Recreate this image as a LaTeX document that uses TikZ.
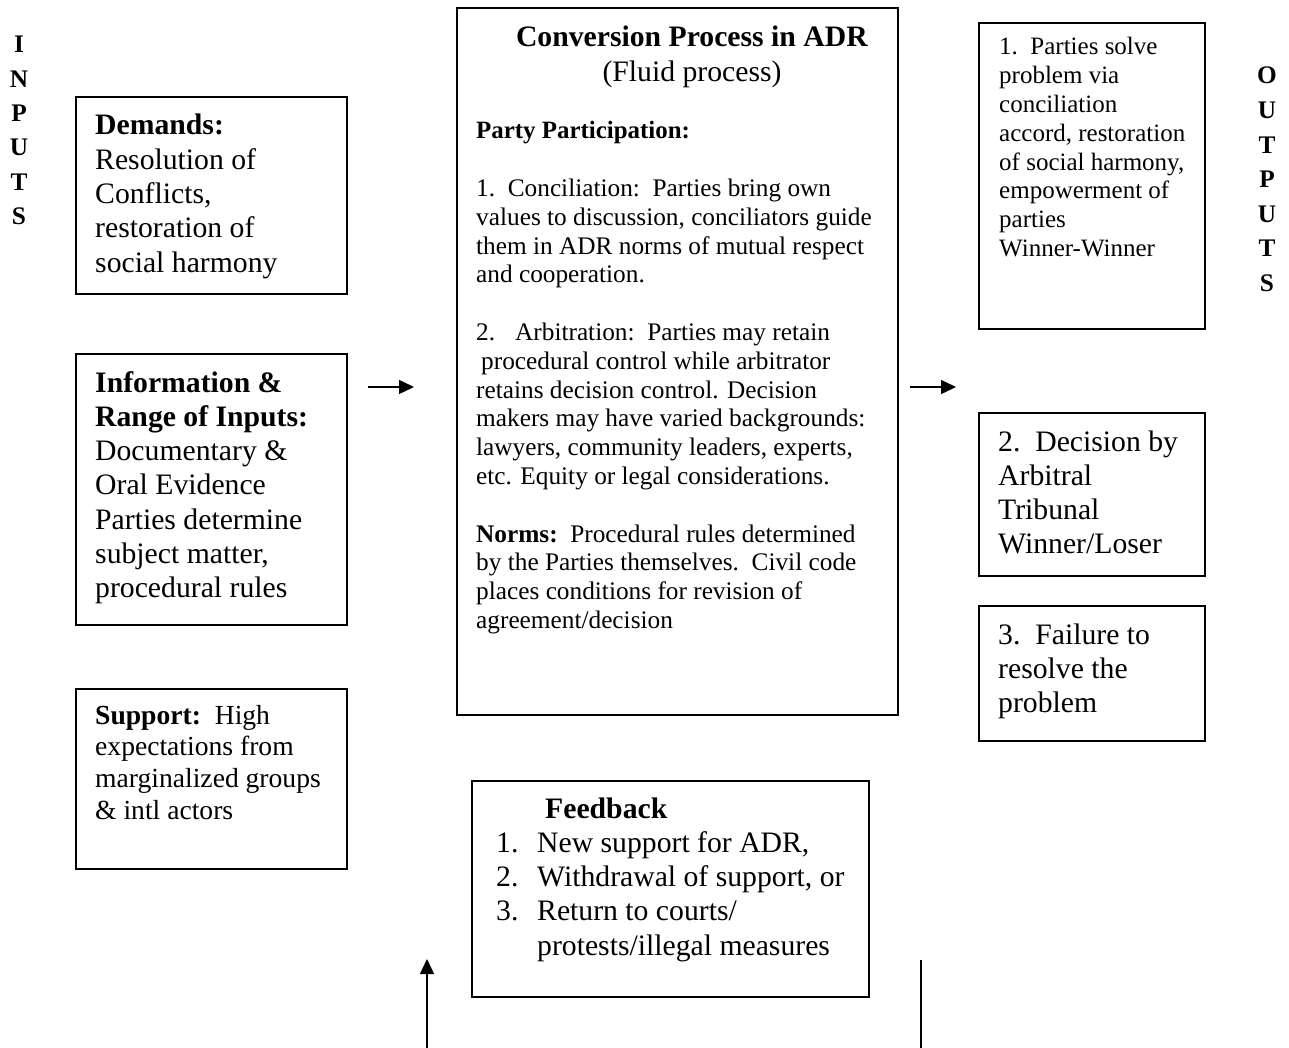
\documentclass[tikz,border=0pt]{standalone}
\usepackage{fontspec}
\setmainfont{Liberation Serif}
\usetikzlibrary{arrows.meta}
\newcommand\bigtxt{\fontsize{29.7}{34.3}\selectfont}
\newcommand\midtxt{\fontsize{25.3}{28.8}\selectfont}
\newcommand\suptxt{\fontsize{27.6}{31.7}\selectfont}
\newcommand\lettxt{\fontsize{25.3}{34.3}\selectfont}
\tikzset{
  box/.style={draw, line width=1.8pt, anchor=north west, inner sep=0pt},
  txt/.style={anchor=base west, inner sep=0pt},
  arr/.style={line width=1.4pt, -{Triangle[length=15pt,width=14pt]}},
  plain/.style={line width=1.4pt},
}
\begin{document}
\begin{tikzpicture}[x=1pt,y=-1pt]
\useasboundingbox (0,0) rectangle (1289,1048);

% side labels
\node[anchor=base, inner sep=0pt] (inputs) at (19,53)
  {\parbox[t]{40pt}{\centering\lettxt\bfseries I\\N\\P\\U\\T\\S}};
\node[anchor=base, inner sep=0pt] (outputs) at (1267,84)
  {\parbox[t]{40pt}{\centering\fontsize{25.3}{34.6}\selectfont\bfseries O\\U\\T\\P\\U\\T\\S}};

% input boxes
\node[box, minimum width=271pt, minimum height=197pt] (demands) at (75,96) {};
\node[txt] (demandsT) at (95,135) {\parbox[t]{250pt}{\bigtxt\raggedright
  \textbf{Demands:}\\ Resolution of\\ Conflicts,\\ restoration of\\ social harmony}};

\node[box, minimum width=271pt, minimum height=271pt] (info) at (75,353) {};
\node[txt] (infoT) at (95,392) {\parbox[t]{250pt}{\bigtxt\raggedright
  \textbf{Information \&}\\ \textbf{Range of Inputs:}\\ Documentary \&\\ Oral Evidence\\
  Parties determine\\ subject matter,\\ procedural rules}};

\node[box, minimum width=271pt, minimum height=180pt] (support) at (75,688) {};
\node[txt] (supportT) at (95,724) {\parbox[t]{250pt}{\suptxt\raggedright
  \textbf{Support:}\ \ High\\ expectations from\\ marginalized groups\\ \& intl actors}};

% conversion box
\node[box, minimum width=441pt, minimum height=707pt] (conv) at (456,7) {};
\node[anchor=base, inner sep=0pt] (convTitle) at (692,47) {\parbox[t]{420pt}{\centering\bigtxt
  \textbf{Conversion Process in ADR}\\ (Fluid process)}};
\node[txt] (convT) at (476,139) {\parbox[t]{415pt}{\midtxt\raggedright
  \textbf{\fontsize{24.9}{28.8}\selectfont Party Participation:}\\[28.8pt]
  1.\ \ Conciliation:\ \ Parties bring own\\
  values to discussion, conciliators guide\\
  them in ADR norms of mutual respect\\
  and cooperation.\\[28.8pt]
  2.\hspace{20pt}Arbitration:\ \ Parties may retain\\
  \hspace*{5pt}procedural control while arbitrator\\
  retains decision control. Decision\\
  makers may have varied backgrounds:\\
  lawyers, community leaders, experts,\\
  etc. Equity or legal considerations.\\[28.8pt]
  \textbf{Norms:}\ \ Procedural rules determined\\
  by the Parties themselves.\ \ Civil code\\
  places conditions for revision of\\
  agreement/decision}};

% output boxes
\node[box, minimum width=226pt, minimum height=306pt] (out1) at (978,22) {};
\node[txt] (out1T) at (999,55) {\parbox[t]{220pt}{\fontsize{25.0}{28.8}\selectfont\raggedright
  1.\ \ Parties solve\\ problem via\\ conciliation\\ accord, restoration\\
  of social harmony,\\ empowerment of\\ parties\\ Winner-Winner}};

\node[box, minimum width=226pt, minimum height=163pt] (out2) at (978,412) {};
\node[txt] (out2T) at (998,451) {\parbox[t]{220pt}{\bigtxt\raggedright
  2.\ \ Decision by\\ Arbitral\\ Tribunal\\ Winner/Loser}};

\node[box, minimum width=226pt, minimum height=135pt] (out3) at (978,605) {};
\node[txt] (out3T) at (998,644) {\parbox[t]{220pt}{\bigtxt\raggedright
  3.\ \ Failure to\\ resolve the\\ problem}};

% feedback box
\node[box, minimum width=397pt, minimum height=216pt] (feed) at (471,780) {};
\node[txt] (feedT) at (496,818) {\parbox[t]{380pt}{\bigtxt\raggedright
  \hspace*{49pt}\textbf{Feedback}\\
  \makebox[41pt][l]{1.}New support for ADR,\\
  \makebox[41pt][l]{2.}Withdrawal of support, or\\
  \makebox[41pt][l]{3.}Return to courts/\\
  \hspace*{41pt}protests/illegal measures}};

% connectors
\coordinate (a1s) at (368,387);
\coordinate (a1e) at (414,387);
\coordinate (a2s) at (910,387);
\coordinate (a2e) at (956,387);
\coordinate (upS) at (427,1048);
\coordinate (upE) at (427,959);
\coordinate (lnS) at (921,960);
\coordinate (lnE) at (921,1048);
\draw[arr] (a1s) -- (a1e);
\draw[arr] (a2s) -- (a2e);
\draw[arr] (upS) -- (upE);
\draw[plain] (lnS) -- (lnE);
\end{tikzpicture}
\end{document}
